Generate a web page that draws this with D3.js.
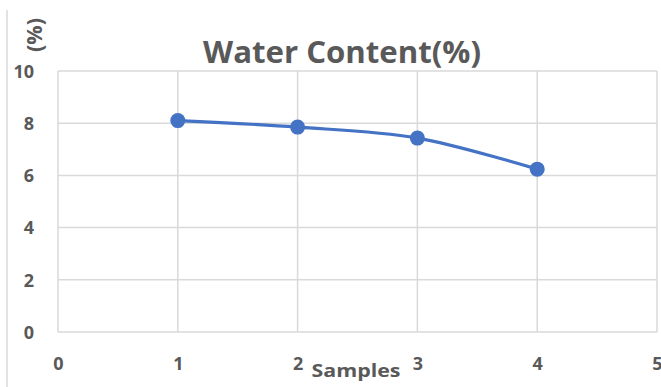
<!DOCTYPE html>
<html>
<head>
<meta charset="utf-8">
<script src="https://cdn.jsdelivr.net/npm/d3@7"></script>
<style>
  html, body { margin: 0; padding: 0; background: #fff; }
  text { font-family: "Open Sans", "Noto Sans", sans-serif; font-weight: bold; fill: #595959; }
</style>
</head>
<body>
<div id="chart"></div>
<script>
// chart data
var samples = [1, 2, 3, 4];
var waterContent = [8.1, 7.85, 7.43, 6.24];
var xTicks = [0, 1, 2, 3, 4, 5];
var yTicks = [0, 2, 4, 6, 8, 10];
var chartTitle = "Water Content(%)";
var xTitle = "Samples";
var yTitle = "(%)";

var width = 661, height = 387;
var margin = { top: 71, right: 4, bottom: 55, left: 58 };

var svg = d3.select("#chart").append("svg")
  .attr("width", width)
  .attr("height", height);

var x = d3.scaleLinear().domain([0, 5]).range([margin.left, width - margin.right]);
var y = d3.scaleLinear().domain([0, 10]).range([height - margin.bottom, margin.top]);

// left border of the chart frame
svg.append("line")
  .attr("x1", 7).attr("x2", 7)
  .attr("y1", 10).attr("y2", height)
  .attr("stroke", "#d9d9d9").attr("stroke-width", 1.5);

// grid
var grid = svg.append("g");
grid.selectAll(".hgrid")
  .data(yTicks)
  .enter().append("line")
  .attr("class", "hgrid")
  .attr("x1", x(0)).attr("x2", x(5))
  .attr("y1", function(d) { return y(d); })
  .attr("y2", function(d) { return y(d); })
  .attr("stroke", "#d9d9d9").attr("stroke-width", 1.5);
grid.selectAll(".vgrid")
  .data(xTicks)
  .enter().append("line")
  .attr("class", "vgrid")
  .attr("y1", y(0)).attr("y2", y(10))
  .attr("x1", function(d) { return x(d); })
  .attr("x2", function(d) { return x(d); })
  .attr("stroke", "#d9d9d9").attr("stroke-width", 1.5);

// axes labels (no domain lines, grid does the job)
var xAxis = svg.append("g")
  .attr("transform", "translate(0," + (y(0) + 22) + ")")
  .call(d3.axisBottom(x).tickValues(xTicks).tickSize(0).tickFormat(d3.format("d")));
xAxis.select(".domain").remove();
xAxis.selectAll("text").attr("font-size", 18).attr("dy", "0.7em");
xAxis.attr("font-family", null);

var yAxis = svg.append("g")
  .attr("transform", "translate(" + (margin.left - 24) + ",0)")
  .call(d3.axisLeft(y).tickValues(yTicks).tickSize(0).tickFormat(d3.format("d")));
yAxis.select(".domain").remove();
yAxis.selectAll("text").attr("font-size", 18).attr("x", 0).attr("dy", "0.35em");
yAxis.attr("font-family", null);

// series line, smoothed like the spreadsheet
var line = d3.line()
  .x(function(d, i) { return x(samples[i]); })
  .y(function(d) { return y(d); })
  .curve(d3.curveCatmullRom.alpha(0.5));

svg.append("path")
  .datum(waterContent)
  .attr("d", line)
  .attr("fill", "none")
  .attr("stroke", "#4472C4")
  .attr("stroke-width", 3.2)
  .attr("stroke-linecap", "round");

svg.selectAll(".dot")
  .data(waterContent)
  .enter().append("circle")
  .attr("class", "dot")
  .attr("cx", function(d, i) { return x(samples[i]); })
  .attr("cy", function(d) { return y(d); })
  .attr("r", 7.5)
  .attr("fill", "#4472C4");

// titles
svg.append("text")
  .attr("x", 342).attr("y", 63)
  .attr("text-anchor", "middle")
  .attr("font-size", 31)
  .attr("textLength", 278)
  .attr("lengthAdjust", "spacingAndGlyphs")
  .text(chartTitle);

svg.append("text")
  .attr("x", 356).attr("y", 377)
  .attr("text-anchor", "middle")
  .attr("font-size", 17)
  .attr("textLength", 89)
  .attr("lengthAdjust", "spacingAndGlyphs")
  .text(xTitle);

svg.append("text")
  .attr("transform", "translate(42,35) rotate(-90)")
  .attr("text-anchor", "middle")
  .attr("font-size", 22)
  .attr("textLength", 34)
  .attr("lengthAdjust", "spacingAndGlyphs")
  .text(yTitle);
</script>
</body>
</html>
